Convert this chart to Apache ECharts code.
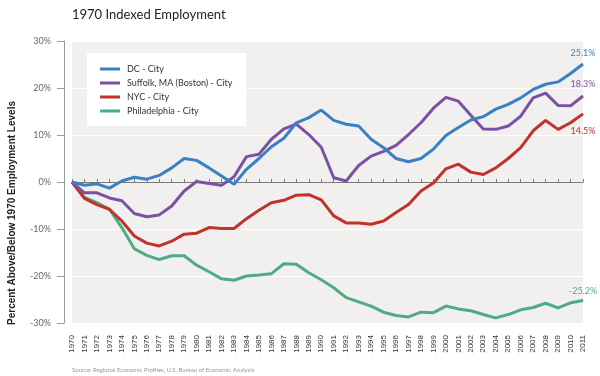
<!DOCTYPE html>
<html>
<head>
<meta charset="utf-8">
<script src="https://cdn.jsdelivr.net/npm/echarts@6/dist/echarts.min.js"></script>
<style>
  html, body { margin: 0; padding: 0; background: #fff; }
  #main { width: 600px; height: 376px; }
</style>
</head>
<body>
<div id="main"></div>
<script>
  // data (percent vs 1970)
  var years = ['1970','1971','1972','1973','1974','1975','1976','1977','1978','1979',
    '1980','1981','1982','1983','1984','1985','1986','1987','1988','1989',
    '1990','1991','1992','1993','1994','1995','1996','1997','1998','1999',
    '2000','2001','2002','2003','2004','2005','2006','2007','2008','2009',
    '2010','2011'];
  var dcCity = [0, -0.7, -0.4, -1.3, 0.2, 1.0, 0.6, 1.4, 3.0, 5.0,
    4.6, 3.0, 1.3, -0.5, 2.7, 5.0, 7.5, 9.3, 12.6, 13.7,
    15.3, 13.1, 12.3, 11.9, 9.1, 7.3, 5.0, 4.3, 5.0, 7.0,
    9.9, 11.6, 13.2, 13.9, 15.5, 16.5, 17.9, 19.7, 20.8, 21.3,
    23.1, 25.1];
  var suffolkCity = [0, -2.3, -2.3, -3.4, -4.0, -6.7, -7.4, -7.0, -5.1, -1.9,
    0.1, -0.3, -0.7, 1.1, 5.4, 5.9, 9.1, 11.3, 12.3, 10.1,
    7.4, 0.9, 0.2, 3.5, 5.5, 6.5, 7.8, 10.1, 12.6, 15.7,
    18.0, 17.2, 14.2, 11.3, 11.2, 11.9, 14.0, 17.9, 18.9, 16.3,
    16.2, 18.3];
  var nycCity = [0, -3.5, -4.8, -5.8, -8.3, -11.5, -13.0, -13.6, -12.6, -11.1,
    -10.9, -9.7, -9.9, -9.9, -7.8, -6.0, -4.4, -3.9, -2.8, -2.7,
    -3.8, -7.2, -8.7, -8.7, -9.0, -8.3, -6.5, -4.8, -1.9, -0.2,
    2.8, 3.8, 2.1, 1.6, 3.0, 5.0, 7.3, 10.9, 13.1, 11.2,
    12.6, 14.5];
  var phillyCity = [0, -3.3, -4.4, -5.8, -9.7, -14.2, -15.6, -16.5, -15.7, -15.7,
    -17.7, -19.1, -20.6, -20.9, -20.0, -19.8, -19.5, -17.4, -17.5, -19.3,
    -20.8, -22.5, -24.6, -25.5, -26.4, -27.7, -28.4, -28.7, -27.7, -27.8,
    -26.4, -27.0, -27.4, -28.2, -28.9, -28.2, -27.2, -26.7, -25.8, -26.8,
    -25.7, -25.2];
  var seriesNames = ['DC - City', 'Suffolk, MA (Boston) - City', 'NYC - City', 'Philadelphia - City'];
  var seriesColors = ['#3a80c2', '#7b51a6', '#c0322b', '#4fab87'];

  var lastIdx = years.length - 1;
  function makeLine(i, values, pos, dist) {
    return {
      name: seriesNames[i],
      type: 'line',
      data: values,
      symbol: 'circle',
      symbolSize: 0.1,
      showSymbol: true,
      smooth: false,
      lineStyle: { width: 3, color: seriesColors[i] },
      itemStyle: { color: seriesColors[i] },
      label: {
        show: true,
        position: pos,
        distance: dist,
        offset: [2, 0],
        fontFamily: 'Lato',
        fontSize: 9,
        color: seriesColors[i],
        formatter: function (p) {
          return p.dataIndex === lastIdx ? p.value.toFixed(1) + '%' : '';
        }
      },
      labelLayout: { hideOverlap: false },
      z: 5 - i
    };
  }

  var myChart = echarts.init(document.getElementById('main'));
  myChart.setOption({
    animation: false,
    backgroundColor: '#fff',
    title: {
      text: '1970 Indexed Employment',
      left: 67,
      top: 3,
      textStyle: { fontFamily: 'Lato', fontSize: 13, fontWeight: 'normal', color: '#222' }
    },
    legend: {
      orient: 'vertical',
      left: 87,
      top: 53,
      backgroundColor: '#fff',
      padding: [11, 14, 10, 13],
      icon: 'rect',
      itemWidth: 20,
      itemHeight: 3,
      itemGap: 4,
      data: seriesNames,
      textStyle: { fontFamily: 'Lato', fontSize: 9, color: '#333', lineHeight: 10, padding: [0, 0, 0, 2] }
    },
    grid: {
      left: 72,
      right: 17,
      top: 41,
      bottom: 53,
      show: true,
      backgroundColor: '#f2f0ee',
      borderWidth: 0
    },
    xAxis: [{
      type: 'category',
      data: years,
      boundaryGap: false,
      position: 'bottom',
      axisLine: { show: false, onZero: false },
      axisTick: { show: false },
      splitLine: { show: false },
      axisLabel: {
        interval: 0,
        rotate: 90,
        margin: 12,
        fontFamily: 'Liberation Sans',
        fontSize: 8,
        color: '#333'
      }
    }, {
      type: 'category',
      data: years,
      boundaryGap: false,
      position: 'bottom',
      axisLine: { show: true, onZero: true, lineStyle: { color: '#7a7a7a', width: 1 } },
      axisTick: { show: true, inside: true, length: 3, interval: 0, lineStyle: { color: '#7a7a7a' } },
      axisLabel: { show: false },
      splitLine: { show: false }
    }],
    yAxis: {
      type: 'value',
      min: -30,
      max: 30,
      interval: 10,
      offset: 8,
      axisLine: { show: true, lineStyle: { color: '#9a9a9a' } },
      axisTick: { show: true, length: 7, lineStyle: { color: '#9a9a9a' } },
      axisLabel: {
        margin: 13,
        fontFamily: 'Lato',
        fontSize: 9,
        color: '#666',
        formatter: '{value}%'
      },
      splitLine: { show: true, lineStyle: { color: '#ffffff', width: 1 } }
    },
    graphic: [{
      type: 'text',
      x: 12,
      y: 213,
      rotation: Math.PI / 2,
      style: {
        text: 'Percent Above/Below 1970 Employment Levels',
        fontFamily: 'Liberation Sans',
        fontWeight: 'bold',
        fontSize: 10,
        fill: '#222',
        textAlign: 'center',
        textVerticalAlign: 'middle'
      }
    }, {
      type: 'text',
      x: 72,
      y: 370,
      style: {
        text: 'Source: Regional Economic Profiles, U.S. Bureau of Economic Analysis',
        fontFamily: 'Lato',
        fontSize: 6,
        fill: '#999',
        textVerticalAlign: 'middle'
      }
    }],
    series: [
      makeLine(0, dcCity, 'top', 6),
      makeLine(1, suffolkCity, 'top', 7),
      makeLine(2, nycCity, 'bottom', 13),
      makeLine(3, phillyCity, 'top', 5)
    ]
  });
  window.addEventListener('resize', function () {
    myChart.resize();
  });
</script>
</body>
</html>
